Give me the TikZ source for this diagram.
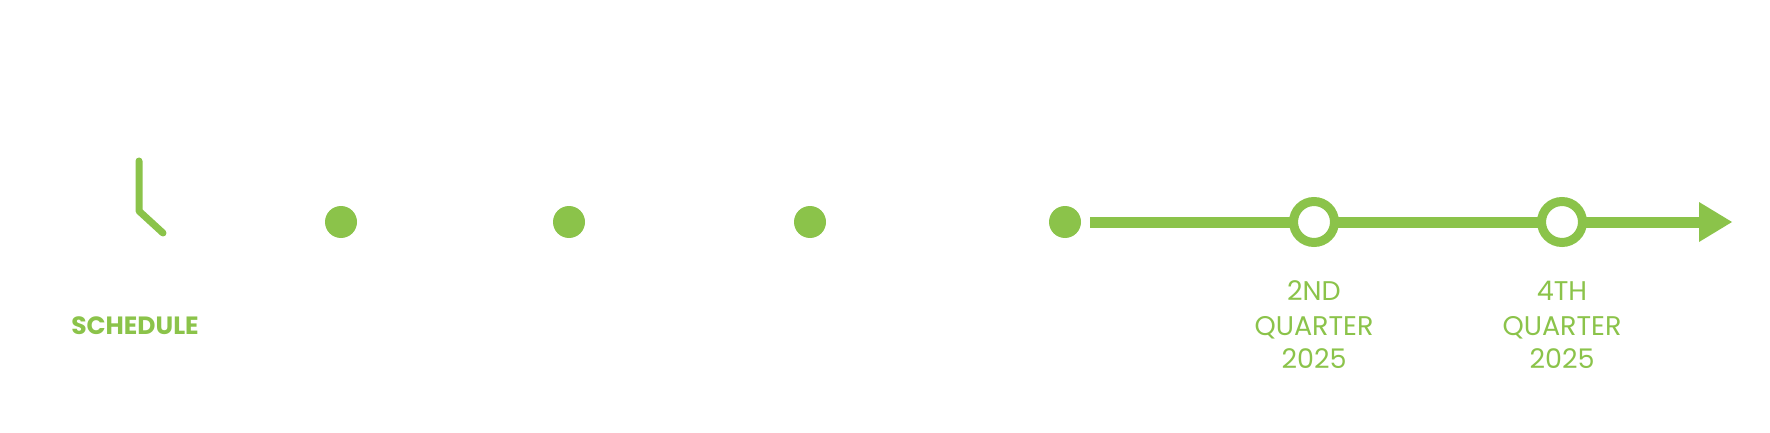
\documentclass[tikz,border=0pt]{standalone}
\usepackage{fontspec}
\setmainfont{Poppins}
\definecolor{grn}{RGB}{139,195,74}
\begin{document}
\begin{tikzpicture}[x=1pt,y=-1pt,
  dot/.style={circle,fill=grn,minimum size=32pt,inner sep=0pt},
  ring/.style={circle,draw=grn,line width=9pt,fill=white,minimum size=41pt,inner sep=0pt},
  lbl/.style={text=grn,font=\fontsize{27}{34}\selectfont,align=center,inner sep=0pt}]
\useasboundingbox (0,0) rectangle (1770,433);
\coordinate (h1) at (139,161); \coordinate (h2) at (139,211); \coordinate (h3) at (163,233);
\draw[grn,line width=7pt,line cap=round,line join=round] (h1)--(h2)--(h3);
\node[text=grn,font=\bfseries\fontsize{25}{28}\selectfont,inner sep=0pt] (sch) at (135,326) {SCHEDULE};
\foreach \x/\n in {341/d1,569/d2,810/d3,1065/d4} \node[dot] (\n) at (\x,222) {};
\coordinate (ls) at (1090,222); \coordinate (le) at (1700,222);
\draw[grn,line width=11pt] (ls)--(le);
\fill[grn] (1699,202)--(1732,222)--(1699,242)--cycle;
\node[ring] (r1) at (1314,222) {};
\node[ring] (r2) at (1562,222) {};
\node[lbl,anchor=base] (a1) at (1314,300) {2ND};
\node[lbl,anchor=base] (b1) at (1314,335) {QUARTER};
\node[lbl,anchor=base] (c1) at (1314,368) {2025};
\node[lbl,anchor=base] (a2) at (1562,300) {4TH};
\node[lbl,anchor=base] (b2) at (1562,335) {QUARTER};
\node[lbl,anchor=base] (c2) at (1562,368) {2025};
\end{tikzpicture}
\end{document}
